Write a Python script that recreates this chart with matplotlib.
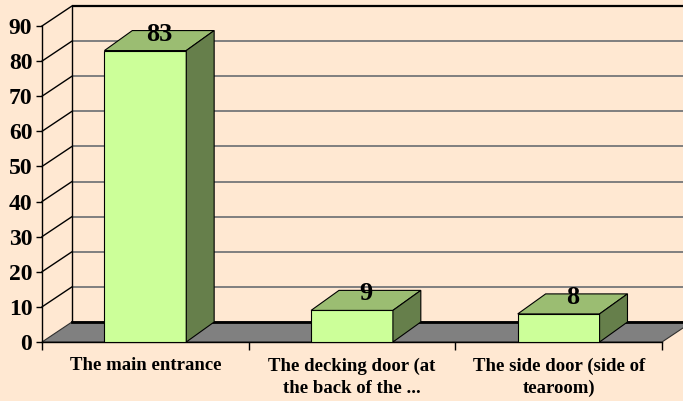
import matplotlib.pyplot as plt
from matplotlib.patches import Polygon

categories = ['The main entrance', 'The decking door (at\nthe back of the ...', 'The side door (side of\ntearoom)']
values = [83, 9, 8]
yticks = list(range(0, 100, 10))

bg = '#FFE8D2'
front_col = '#CCFF99'
top_col = '#9BBD72'
side_col = '#667F4B'

# depth offsets in data units (x in categories, y in values)
wall_dx, wall_dy = 0.145, 5.7
bar_dx, bar_dy = 0.135, 5.7
bar_w = 0.396
ymax = 90

plt.rcParams['font.family'] = ['Liberation Serif', 'DejaVu Serif']
plt.rcParams['font.weight'] = 'bold'

fig = plt.figure(figsize=(6.83, 4.01), dpi=100, facecolor=bg)
ax = fig.add_axes([42 / 683, 59 / 401, 620 / 683, 316 / 401])
ax.set_facecolor('none')
ax.set_xlim(0, len(categories))
ax.set_ylim(0, ymax)

n = len(categories)

# back wall gridlines and side wall diagonals
for v in yticks[1:]:
    col = 'black' if v == ymax else '#7F7F7F'
    lw = 1.6 if v == ymax else 1.4
    ax.plot([wall_dx, n + wall_dx + 0.2], [v + wall_dy, v + wall_dy], color=col, lw=lw,
            clip_on=False, zorder=1, solid_capstyle='butt')
    ax.plot([0, wall_dx], [v, v + wall_dy], color='black', lw=1.0, clip_on=False, zorder=1)
ax.plot([wall_dx, wall_dx], [wall_dy, ymax + wall_dy], color='black', lw=1.0, clip_on=False, zorder=1)

# floor
floor = Polygon([(0, 0), (n, 0), (n + wall_dx, wall_dy), (wall_dx, wall_dy)], closed=True,
                facecolor='#808080', edgecolor='#303030', lw=0.8, clip_on=False, zorder=2)
ax.add_patch(floor)
ax.plot([wall_dx, n + wall_dx + 0.2], [wall_dy, wall_dy], color='black', lw=2.0, clip_on=False, zorder=2)

# bars
for i, v in enumerate(values):
    x0 = i + 0.5 - bar_w / 2
    x1 = i + 0.5 + bar_w / 2
    front = Polygon([(x0, 0), (x1, 0), (x1, v), (x0, v)], closed=True,
                    facecolor=front_col, edgecolor='black', lw=0.8, zorder=3)
    top = Polygon([(x0, v), (x1, v), (x1 + bar_dx, v + bar_dy), (x0 + bar_dx, v + bar_dy)], closed=True,
                  facecolor=top_col, edgecolor='black', lw=0.8, zorder=3)
    side = Polygon([(x1, 0), (x1 + bar_dx, bar_dy), (x1 + bar_dx, v + bar_dy), (x1, v)], closed=True,
                   facecolor=side_col, edgecolor='black', lw=0.8, zorder=3)
    for p in (front, top, side):
        ax.add_patch(p)
    ax.text(i + 0.5 + bar_dx / 2, v + bar_dy / 2, str(v), ha='center', va='baseline',
            fontsize=19, fontweight='bold', zorder=4, clip_on=False)

# axes styling
for s in ['top', 'right']:
    ax.spines[s].set_visible(False)
ax.spines['left'].set_linewidth(1.0)
ax.spines['bottom'].set_linewidth(1.0)
ax.spines['left'].set_zorder(5)
ax.set_yticks(yticks)
ax.set_yticklabels([str(t) for t in yticks], fontsize=17, fontweight='bold')
ax.tick_params(axis='y', direction='out', length=4, width=1, pad=3)

ax.set_xticks(range(n + 1))
ax.set_xticklabels([])
ax.tick_params(axis='x', which='major', direction='out', length=6, width=1)
ax.set_xticks([i + 0.5 for i in range(n)], minor=True)
ax.set_xticklabels(categories, minor=True, fontsize=13.5, fontweight='bold', linespacing=1.4)
ax.tick_params(axis='x', which='minor', length=0, pad=11)

fig.savefig('out.png', dpi=100, facecolor=bg)
